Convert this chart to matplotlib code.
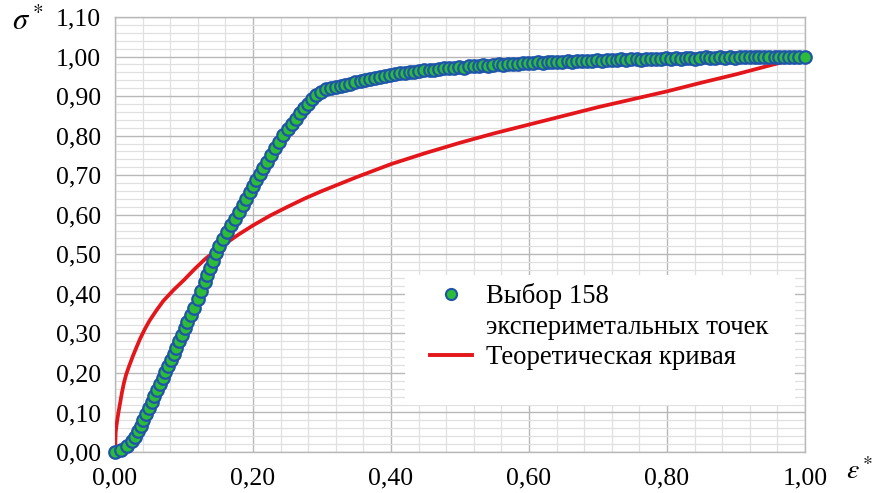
import matplotlib
matplotlib.use("Agg")
import matplotlib.pyplot as plt
from matplotlib.lines import Line2D
from matplotlib.patches import Rectangle
from matplotlib.ticker import MultipleLocator

# ---------------- data ----------------
exp_eps = [
    0.000, 0.009, 0.017, 0.024, 0.029, 0.033, 0.037, 0.041, 0.045, 0.049,
    0.053, 0.057, 0.061, 0.065, 0.069, 0.073, 0.077, 0.081, 0.085, 0.089,
    0.093, 0.097, 0.101, 0.105, 0.110, 0.115, 0.120, 0.125, 0.130, 0.134,
    0.138, 0.142, 0.146, 0.151, 0.156, 0.162, 0.168, 0.174, 0.180, 0.185,
    0.190, 0.195, 0.200, 0.205, 0.210, 0.215, 0.220, 0.226, 0.232, 0.238,
    0.244, 0.250, 0.256, 0.262, 0.268, 0.274, 0.280, 0.286, 0.292, 0.299,
    0.306, 0.313,
    0.320, 0.327, 0.334, 0.341, 0.348, 0.356, 0.363, 0.370, 0.377, 0.384,
    0.391, 0.398, 0.406, 0.413, 0.420, 0.427, 0.434, 0.441, 0.448, 0.456,
    0.463, 0.470, 0.477, 0.484, 0.491, 0.498, 0.506, 0.513, 0.520, 0.527,
    0.534, 0.541, 0.548, 0.556, 0.563, 0.570, 0.577, 0.584, 0.591, 0.598,
    0.606, 0.613, 0.620, 0.627, 0.634, 0.641, 0.648, 0.656, 0.663, 0.670,
    0.677, 0.684, 0.691, 0.698, 0.706, 0.713, 0.720, 0.727, 0.734, 0.741,
    0.748, 0.756, 0.763, 0.770, 0.777, 0.784, 0.791, 0.798, 0.806, 0.813,
    0.820, 0.827, 0.834, 0.841, 0.848, 0.856, 0.863, 0.870, 0.877, 0.884,
    0.891, 0.898, 0.906, 0.913, 0.920, 0.927, 0.934, 0.941, 0.948, 0.956,
    0.963, 0.970, 0.977, 0.984, 0.992, 1.000,
]
exp_sigma = [
    0.000, 0.006, 0.015, 0.027, 0.039, 0.052, 0.067, 0.082, 0.097, 0.112,
    0.127, 0.142, 0.157, 0.172, 0.187, 0.202, 0.217, 0.232, 0.248, 0.264,
    0.280, 0.297, 0.313, 0.329, 0.347, 0.365, 0.386, 0.408, 0.430, 0.448,
    0.466, 0.484, 0.502, 0.520, 0.538, 0.556, 0.573, 0.590, 0.607, 0.624,
    0.641, 0.658, 0.672, 0.688, 0.703, 0.719, 0.734, 0.751, 0.768, 0.785,
    0.801, 0.816, 0.830, 0.843, 0.856, 0.869, 0.881, 0.893, 0.903, 0.911,
    0.917, 0.921,
    0.923, 0.926, 0.929, 0.931, 0.935, 0.938, 0.941, 0.943, 0.946, 0.949,
    0.952, 0.953, 0.956, 0.958, 0.959, 0.962, 0.962, 0.964, 0.965, 0.967,
    0.966, 0.969, 0.970, 0.970, 0.972, 0.973, 0.972, 0.975, 0.976, 0.976,
    0.978, 0.977, 0.979, 0.980, 0.979, 0.981, 0.982, 0.981, 0.983, 0.984,
    0.983, 0.985, 0.984, 0.986, 0.987, 0.985, 0.987, 0.988, 0.987, 0.989,
    0.990, 0.988, 0.990, 0.991, 0.990, 0.992, 0.991, 0.992, 0.993, 0.991,
    0.993, 0.994, 0.992, 0.994, 0.995, 0.993, 0.995, 0.996, 0.994, 0.996,
    0.995, 0.997, 0.996, 0.995, 0.997, 0.998, 0.996, 0.997, 0.998, 0.997,
    0.999, 0.997, 0.998, 0.999, 0.998, 0.999, 1.000, 0.998, 0.999, 1.000,
    0.999, 1.000, 0.999, 1.000, 0.999, 1.000,
]

theory_eps = [0.000, 0.001, 0.002, 0.003, 0.005, 0.008, 0.010, 0.013, 0.016,
              0.020, 0.026, 0.030, 0.036, 0.043, 0.050, 0.060, 0.070, 0.085,
              0.100, 0.115, 0.130, 0.145, 0.160, 0.180, 0.200, 0.225, 0.250,
              0.275, 0.300, 0.350, 0.400, 0.450, 0.500, 0.550, 0.600, 0.650,
              0.700, 0.750, 0.800, 0.850, 0.900, 0.950, 1.000]
theory_sigma = [0.000, 0.050, 0.065, 0.078, 0.100, 0.130, 0.150, 0.175, 0.195,
                0.215, 0.243, 0.260, 0.285, 0.310, 0.332, 0.358, 0.382, 0.410,
                0.435, 0.462, 0.487, 0.508, 0.527, 0.551, 0.573, 0.598, 0.620,
                0.641, 0.660, 0.695, 0.728, 0.756, 0.782, 0.806, 0.828, 0.850,
                0.872, 0.892, 0.912, 0.934, 0.955, 0.978, 1.000]

x_ticks = [0.0, 0.2, 0.4, 0.6, 0.8, 1.0]
x_labels = ["0,00", "0,20", "0,40", "0,60", "0,80", "1,00"]
y_ticks = [0.0, 0.1, 0.2, 0.3, 0.4, 0.5, 0.6, 0.7, 0.8, 0.9, 1.0, 1.1]
y_labels = ["0,00", "0,10", "0,20", "0,30", "0,40", "0,50", "0,60",
            "0,70", "0,80", "0,90", "1,00", "1,10"]

label_exp_1 = "Выбор 158"
label_exp_2 = "экспериметальных точек"
label_theory = "Теоретическая кривая"

# ---------------- style ----------------
SERIF = "Liberation Serif"
plt.rcParams["font.family"] = SERIF
plt.rcParams["mathtext.fontset"] = "stix"

fig = plt.figure(figsize=(8.73, 4.93), dpi=100)
ax = fig.add_axes([115 / 873, 41 / 493, 690 / 873, 435 / 493])

ax.set_xlim(0, 1.0)
ax.set_ylim(0, 1.1)
ax.set_xticks(x_ticks)
ax.set_xticklabels(x_labels, fontfamily=SERIF, fontsize=18.5)
ax.set_yticks(y_ticks)
ax.set_yticklabels(y_labels, fontfamily=SERIF, fontsize=18.5)
ax.xaxis.set_minor_locator(MultipleLocator(0.04))
ax.yaxis.set_minor_locator(MultipleLocator(0.02))
ax.tick_params(which="both", length=0)
ax.tick_params(axis="y", pad=10)
ax.tick_params(axis="x", pad=11)

ax.grid(which="major", color="#b8b8b8", linewidth=1.0, zorder=0)
ax.grid(which="minor", color="#e0e0e0", linewidth=0.9, zorder=0)
ax.set_axisbelow(True)
for s in ax.spines.values():
    s.set_color("#b8b8b8")
    s.set_linewidth(1.0)

green = "#2dbb3a"
blue = "#1f55a8"
red = "#e3171b"

ax.plot(theory_eps, theory_sigma, color=red, linewidth=2.7, zorder=3,
        solid_capstyle="round", solid_joinstyle="round")
ax.plot(exp_eps, exp_sigma, linestyle="none", marker="o", markersize=9,
        markerfacecolor=green, markeredgecolor=blue, markeredgewidth=1.6,
        zorder=4, clip_on=False)

# legend background box
ax.add_patch(Rectangle((0.42, 0.107), 0.565, 0.30, transform=ax.transAxes,
                       facecolor="white", edgecolor="none", zorder=2.5))

h1 = Line2D([], [], linestyle="none", marker="o", markersize=8,
            markerfacecolor=green, markeredgecolor=blue, markeredgewidth=1.5)
h2 = Line2D([], [], linestyle="none")
h3 = Line2D([], [], color=red, linewidth=2.8)
leg = ax.legend([h1, h2, h3], [label_exp_1, label_exp_2, label_theory],
                loc="upper left", bbox_to_anchor=(0.4565, 0.388),
                frameon=False, prop={"family": SERIF, "size": 19.3},
                handlelength=1.55, handletextpad=0.55, labelspacing=0.2,
                borderpad=0, borderaxespad=0)
leg.set_zorder(5)

fig.text(12 / 873, 1 - 22 / 493, r"$\sigma^*$", fontsize=22, va="center",
         ha="left")
fig.text(846 / 873, 1 - 472 / 493, r"$\varepsilon^*$", fontsize=20,
         va="center", ha="left")

fig.savefig("out.png", dpi=100)
